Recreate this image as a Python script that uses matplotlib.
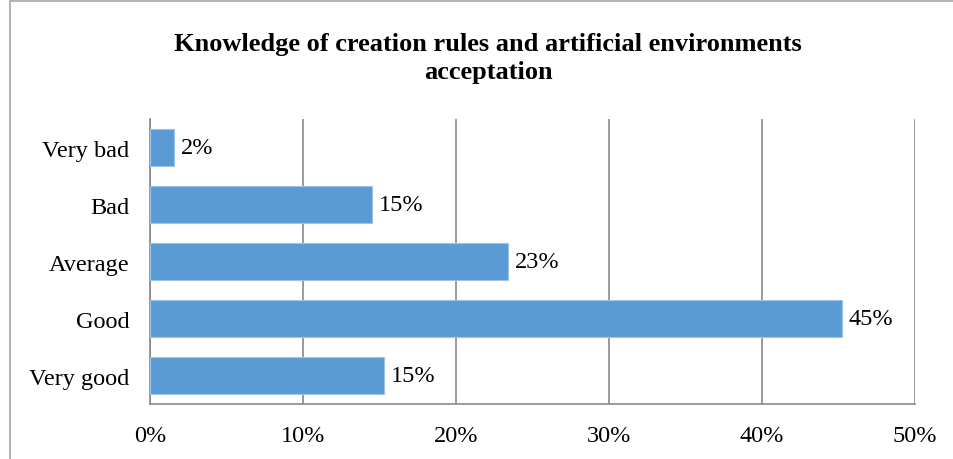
import matplotlib.pyplot as plt
from matplotlib.patches import Rectangle

categories = ["Very bad", "Bad", "Average", "Good", "Very good"]
values = [1.6, 14.5, 23.4, 45.2, 15.3]
labels = ["2%", "15%", "23%", "45%", "15%"]
xticks = [0, 10, 20, 30, 40, 50]

plt.rcParams['font.family'] = ['Liberation Serif', 'DejaVu Serif']

fig = plt.figure(figsize=(9.54, 4.6), dpi=100)
ax = fig.add_axes([150 / 954, 1 - 405 / 460, 765 / 954, 285 / 460])

# outer chart frame (only top and left visible in the original)
fig.add_artist(Rectangle((10 / 954, -0.05), 1.2, 1.05 - 2 / 460, transform=fig.transFigure,
                         fill=False, edgecolor='#a6a6a6', linewidth=1.2))

fs = 17.5
pos = list(range(len(categories)))
bars = ax.barh(pos, values, height=0.645, color='#5b9bd5', edgecolor='#9dc3e6',
               linewidth=0.8, zorder=3)
for b, lab in zip(bars, labels):
    ax.text(b.get_width() + 0.45, b.get_y() + b.get_height() / 2, lab,
            va='center', ha='left', fontsize=fs, color='black')

ax.set_ylim(len(categories) - 0.5, -0.5)
ax.set_yticks(pos)
ax.set_yticklabels(categories, fontsize=fs)
ax.set_xlim(0, 50)
ax.set_xticks(xticks)
ax.set_xticklabels([f"{t}%" for t in xticks], fontsize=fs)
ax.xaxis.grid(True, color='#898989', linewidth=1.2, zorder=0)
ax.tick_params(axis='y', length=0, pad=15)
ax.tick_params(axis='x', length=0, pad=15)
for s in ['top', 'right']:
    ax.spines[s].set_visible(False)
for s in ['left', 'bottom']:
    ax.spines[s].set_color('#898989')
    ax.spines[s].set_linewidth(1.2)

fig.text(488 / 954, 1 - 44 / 460, "Knowledge of creation rules and artificial environments",
         ha='center', va='center', fontsize=19, fontweight='bold')
fig.text(488 / 954, 1 - 73 / 460, "acceptation",
         ha='center', va='center', fontsize=19, fontweight='bold')

fig.savefig("out.png", dpi=100)
